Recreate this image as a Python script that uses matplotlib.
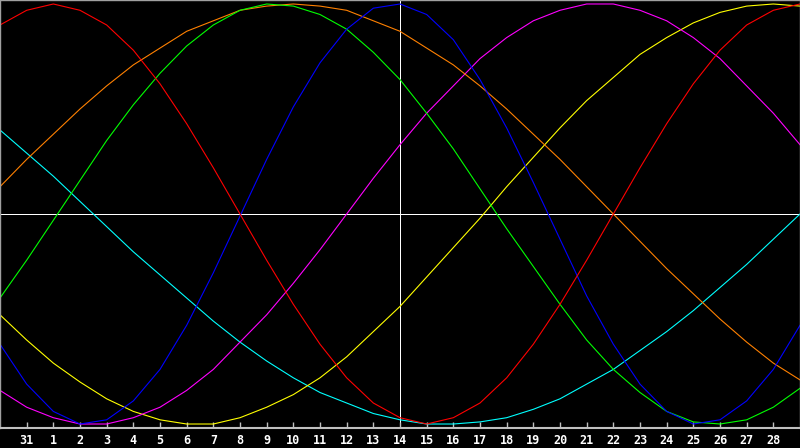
import numpy as np
import matplotlib
matplotlib.use("Agg")
import matplotlib.pyplot as plt

# day offsets, -1 .. 29 (centre day = 14)
days = list(range(-1, 30))
day_labels = ['31'] + [str(d) for d in range(1, 29)]

# curve values, one per day
red = [0.90, 0.97, 1.00, 0.97, 0.90, 0.78, 0.62, 0.43, 0.22, 0.00, -0.22, -0.43, -0.62, -0.78, -0.90, -0.97,
       -1.00, -0.97, -0.90, -0.78, -0.62, -0.43, -0.22, 0.00, 0.22, 0.43, 0.62, 0.78, 0.90, 0.97, 1.00]
blue = [-0.62, -0.81, -0.94, -1.00, -0.98, -0.89, -0.74, -0.53, -0.28, -0.01, 0.26, 0.51, 0.72, 0.88, 0.98, 1.00,
        0.95, 0.83, 0.64, 0.41, 0.15, -0.12, -0.39, -0.62, -0.81, -0.94, -1.00, -0.98, -0.89, -0.74, -0.53]
green = [-0.40, -0.22, -0.03, 0.16, 0.35, 0.52, 0.67, 0.80, 0.90, 0.97, 1.00, 0.99, 0.95, 0.88, 0.77, 0.64,
         0.48, 0.31, 0.12, -0.07, -0.25, -0.43, -0.60, -0.74, -0.85, -0.94, -0.99, -1.00, -0.98, -0.92, -0.83]
magenta = [-0.84, -0.92, -0.97, -1.00, -1.00, -0.97, -0.92, -0.84, -0.74, -0.61, -0.48, -0.33, -0.17, 0.00, 0.17, 0.33,
           0.48, 0.61, 0.74, 0.84, 0.92, 0.97, 1.00, 1.00, 0.97, 0.92, 0.84, 0.74, 0.61, 0.48, 0.33]
yellow = [-0.48, -0.60, -0.71, -0.80, -0.88, -0.94, -0.98, -1.00, -1.00, -0.97, -0.92, -0.86, -0.78, -0.68, -0.56, -0.44,
          -0.30, -0.16, -0.02, 0.13, 0.27, 0.41, 0.54, 0.65, 0.76, 0.84, 0.91, 0.96, 0.99, 1.00, 0.99]
orange = [0.13, 0.26, 0.38, 0.50, 0.61, 0.71, 0.79, 0.87, 0.92, 0.97, 0.99, 1.00, 0.99, 0.97, 0.92, 0.87,
          0.79, 0.71, 0.61, 0.50, 0.38, 0.26, 0.13, 0.00, -0.13, -0.26, -0.38, -0.50, -0.61, -0.71, -0.79]
cyan = [0.40, 0.29, 0.18, 0.06, -0.06, -0.18, -0.29, -0.40, -0.51, -0.61, -0.70, -0.78, -0.85, -0.90, -0.95, -0.98,
        -1.00, -1.00, -0.99, -0.97, -0.93, -0.88, -0.81, -0.74, -0.65, -0.56, -0.46, -0.35, -0.24, -0.12, 0.00]

fig = plt.figure(figsize=(8, 4.48), dpi=100, facecolor='black')
ax = fig.add_axes([0, 20 / 448, 1, 428 / 448], facecolor='black')

series = [(cyan, '#00ffff'), (yellow, '#ffff00'), (magenta, '#ff00ff'), (orange, '#ff8000'),
          (green, '#00ff00'), (blue, '#0000ff'), (red, '#ff0000')]
for vals, col in series:
    ax.plot(days, vals, color=col, lw=0.8)

# centre cross
ax.axhline(0, color='white', lw=0.72, zorder=0, antialiased=False)
ax.axvline(14, color='white', lw=0.72, zorder=0, antialiased=False)

ax.set_xlim(-1, 29)
ax.set_ylim(-1.019, 1.019)
ax.set_yticks([])
ax.set_xticks(range(0, 29))
ax.set_xticklabels(day_labels)
ax.tick_params(axis='x', direction='in', length=4.5, width=1, color='#c0c0c0',
               labelcolor='white', labelsize=8.5, pad=4.5)
for lab in ax.get_xticklabels():
    lab.set_family('DejaVu Sans Mono')
    lab.set_fontweight('bold')

for side in ['left', 'right', 'top']:
    ax.spines[side].set_color('#a0a0a0')
    ax.spines[side].set_linewidth(1)
ax.spines['bottom'].set_color('#c0c0c0')
ax.spines['bottom'].set_linewidth(1.5)

fig.savefig('out.png', dpi=100, facecolor='black')
